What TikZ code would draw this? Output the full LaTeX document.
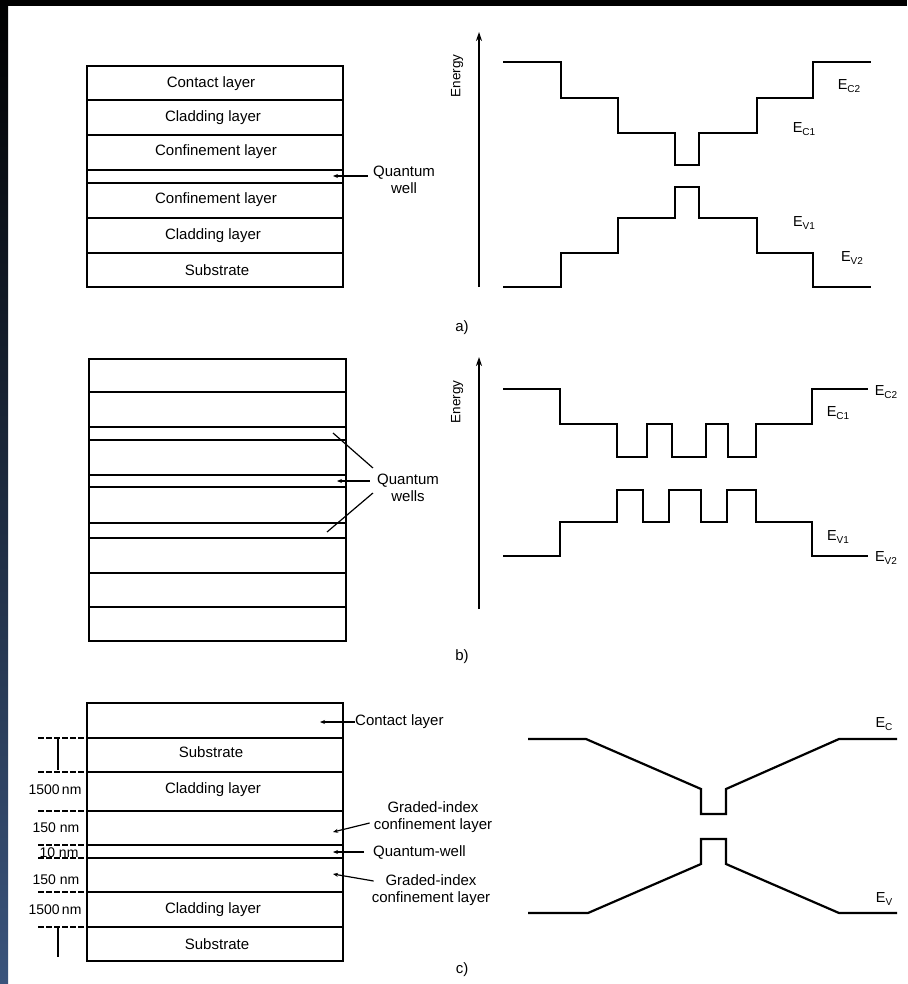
\documentclass[tikz,border=0pt]{standalone}
\usepackage{fontspec}
\setmainfont{Liberation Sans}
\usetikzlibrary{arrows.meta,calc}
\definecolor{edgeblue}{RGB}{58,84,124}
\newcommand{\Esub}[1]{E\raisebox{-0.45ex}{\fontsize{10}{10}\selectfont #1}}
\begin{document}
\begin{tikzpicture}[x=1pt,y=-1pt,
  lay/.style={line width=1.8pt},
  band/.style={line width=2.2pt, line join=miter},
  lbl/.style={font=\fontsize{15}{17}\selectfont, inner sep=0pt},
  laylbl/.style={lbl, text height=11pt, text depth=3pt},
  elbl/.style={font=\fontsize{14.5}{16}\selectfont, inner sep=0pt},
  dimlbl/.style={font=\fontsize{14}{16}\selectfont, inner sep=0pt, text height=10.5pt, text depth=0pt},
  axis/.style={line width=1.5pt, -{Stealth[length=9pt,width=6pt]}},
  dimline/.style={line width=1.2pt, dash pattern=on 6pt off 2pt},
  lead/.style={line width=1.2pt},
  leadar/.style={line width=1.2pt, -{Stealth[length=5pt,width=4pt]}},
]
\useasboundingbox (0,0) rectangle (907,984);
\fill[white] (0,0) rectangle (907,984);
\fill[black] (0,0) rectangle (907,6);
\shade[top color=black, bottom color=edgeblue] (0,0) rectangle (8,984);

% ---------- panel a: layer stack ----------
\draw[lay] (87,66) rectangle (343,287);
\foreach \y in {100,135,170,183,218,253} \draw[lay] (87,\y) -- (343,\y);
\node[laylbl] (a1) at (211,84) {Contact layer};
\node[laylbl] (a2) at (213,118) {Cladding layer};
\node[laylbl] (a3) at (216,152) {Confinement layer};
\node[laylbl] (a4) at (216,200) {Confinement layer};
\node[laylbl] (a5) at (213,236) {Cladding layer};
\node[laylbl] (a6) at (217,271) {Substrate};
\node[lbl, align=center] (aqw) at (404,180) {Quantum\\well};
\coordinate (aqwt) at (333,176);
\draw[leadar] ([xshift=-5pt]aqw.west |- aqwt) -- (aqwt);

% panel a: band diagram
\coordinate (aax0) at (479,287);
\coordinate (aax1) at (479,32);
\draw[axis] (aax0) -- (aax1);
\node[elbl, rotate=90, font=\fontsize{13.5}{15}\selectfont] (aen) at (457,76) {Energy};
\draw[band] (503,62) -| (561,98) -| (618,133) -| (675,165) -| (699,133) -| (757,98) -| (813,62) -- (871,62);
\draw[band] (503,287) -| (561,253) -| (618,218) -| (675,187) -| (699,218) -| (757,253) -| (813,287) -- (871,287);
\node[elbl] (aec2) at (849,86) {\Esub{C2}};
\node[elbl] (aec1) at (804,129) {\Esub{C1}};
\node[elbl] (aev1) at (804,223) {\Esub{V1}};
\node[elbl] (aev2) at (852,258) {\Esub{V2}};
\node[lbl] (la) at (462,328) {a)};

% ---------- panel b: layer stack ----------
\draw[lay] (89,359) rectangle (346,641);
\foreach \y in {392,427,440,475,487,523,538,573,607} \draw[lay] (89,\y) -- (346,\y);
\node[lbl, align=center] (bqw) at (408,488) {Quantum\\wells};
\coordinate (bq1) at (333,433);
\coordinate (bq2) at (337,481);
\coordinate (bq3) at (327,532);
\draw[lead] ($(bqw.west)+(-4,-20)$) -- (bq1);
\draw[leadar] ($(bqw.west)+(-7,-7)$) -- (bq2);
\draw[lead] ($(bqw.west)+(-4,5)$) -- (bq3);

% panel b: band diagram
\coordinate (bax0) at (479,609);
\coordinate (bax1) at (479,357);
\draw[axis] (bax0) -- (bax1);
\node[elbl, rotate=90, font=\fontsize{13.5}{15}\selectfont] (ben) at (457,402) {Energy};
\draw[band] (503,389) -| (560,424) -| (617,457) -| (647,424) -| (672,457) -| (706,424) -| (728,457) -| (756,424) -| (812,389) -- (868,389);
\draw[band] (503,556) -| (560,522) -| (617,490) -| (643,522) -| (669,490) -| (701,522) -| (727,490) -| (756,522) -| (812,556) -- (868,556);
\node[elbl] (bec2) at (886,392) {\Esub{C2}};
\node[elbl] (bec1) at (838,413) {\Esub{C1}};
\node[elbl] (bev1) at (838,537) {\Esub{V1}};
\node[elbl] (bev2) at (886,558) {\Esub{V2}};
\node[lbl] (lb) at (462,657) {b)};

% ---------- panel c: layer stack ----------
\draw[lay] (87,703) rectangle (343,961);
\foreach \y in {738,772,811,845,858,892,927} {
  \draw[lay] (87,\y) -- (343,\y);
  \draw[dimline] (38,\y) -- (87,\y);
}
\draw[lead] (58,738) -- (58,770);
\draw[lead] (58,928) -- (58,957);
\node[laylbl] (c2) at (211,753) {Substrate};
\node[laylbl] (c3) at (213,789) {Cladding layer};
\node[laylbl] (c7) at (213,909) {Cladding layer};
\node[laylbl] (c8) at (217,945) {Substrate};
\node[dimlbl] (d1) at (55,789) {1500\,nm};
\node[dimlbl] (d2) at (56,827) {150 nm};
\node[dimlbl] (d3) at (59,852) {10 nm};
\node[dimlbl] (d4) at (56,879) {150 nm};
\node[dimlbl] (d5) at (55,909) {1500\,nm};

\node[lbl, anchor=west] (ccl) at (355,722) {Contact layer};
\coordinate (cclt) at (320,722);
\draw[leadar] (ccl.west) -- (cclt);
\node[lbl, align=center] (gi1) at (433,817) {Graded-index\\confinement layer};
\coordinate (gi1t) at (333,832);
\draw[leadar] ($(gi1.west)+(-4,6)$) -- (gi1t);
\node[lbl, anchor=west] (cqw) at (373,852) {Quantum-well};
\coordinate (cqwt) at (333,852);
\draw[leadar] ([xshift=-9pt]cqw.west) -- (cqwt);
\node[lbl, align=center] (gi2) at (431,890) {Graded-index\\confinement layer};
\coordinate (gi2t) at (333,874);
\draw[leadar] ($(gi2.west)+(2,-9)$) -- (gi2t);

% panel c: band diagram
\draw[band] (528,739) -- (586,739) -- (701,789) -- (701,814) -- (726,814) -- (726,789) -- (839,739) -- (897,739);
\draw[band] (528,913) -- (588,913) -- (701,864) -- (701,839) -- (726,839) -- (726,864) -- (839,913) -- (897,913);
\node[elbl] (cec) at (884,724) {\Esub{C}};
\node[elbl] (cev) at (884,899) {\Esub{V}};
\node[lbl] (lc) at (462,970) {c)};
\end{tikzpicture}
\end{document}
